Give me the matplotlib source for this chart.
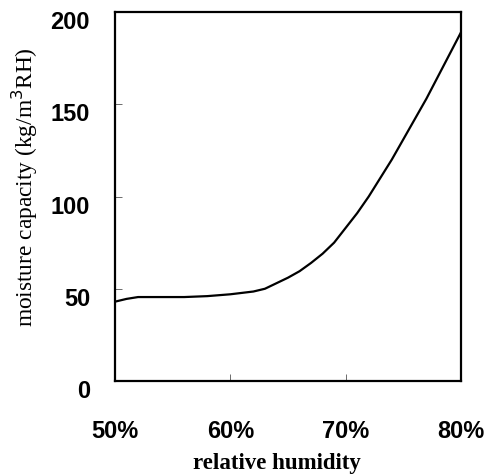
import matplotlib
matplotlib.use("Agg")
import matplotlib.pyplot as plt
import matplotlib.transforms as mtransforms
from matplotlib.ticker import FuncFormatter

rh = [50, 51, 52, 54, 56, 58, 60, 62, 63, 64, 65, 66, 67, 68, 69, 70, 71, 72, 73, 74, 75, 76, 77, 78, 79, 80]
capacity = [43, 44.5, 45.5, 45.5, 45.5, 46, 47, 48.5, 50, 53, 56, 59.5, 64, 69, 75, 83, 91, 100, 110, 120, 131, 142, 153, 165, 177, 189]
xticks = [50, 60, 70, 80]
yticks = [0, 50, 100, 150, 200]

W, H = 486, 476
fig = plt.figure(figsize=(W/100, H/100), dpi=100)
ax = fig.add_axes([115/W, 1-381/H, 346/W, 369/H])
ax.plot(rh, capacity, color="black", lw=1.6)
ax.set_xlim(50, 80)
ax.set_ylim(0, 200)
ax.set_xticks(xticks)
ax.set_yticks(yticks)
ax.xaxis.set_major_formatter(FuncFormatter(lambda v, p: f"{int(v)}%"))
for s in ax.spines.values():
    s.set_linewidth(1.6)
ax.tick_params(direction="in", length=5, width=0.6, color="#555555")
ax.tick_params(axis="x", pad=28)
ax.tick_params(axis="y", pad=18)
for lab in ax.get_xticklabels() + ax.get_yticklabels():
    lab.set_fontfamily("Liberation Sans")
    lab.set_fontweight("bold")
    lab.set_fontsize(17)
off = mtransforms.ScaledTranslation(0, -8/100, fig.dpi_scale_trans)
for lab in ax.get_yticklabels():
    lab.set_transform(lab.get_transform() + off)

fig.text(277/W, 1-464/H, "relative humidity", family="Liberation Serif",
         fontsize=16.5, fontweight="bold", ha="center", va="center")
fig.text(25/W, 1-187/H, "moisture capacity (kg/m$^3$RH)", family="Liberation Serif",
         fontsize=16.8, rotation=90, ha="center", va="center")

fig.savefig("out.png", dpi=100)
